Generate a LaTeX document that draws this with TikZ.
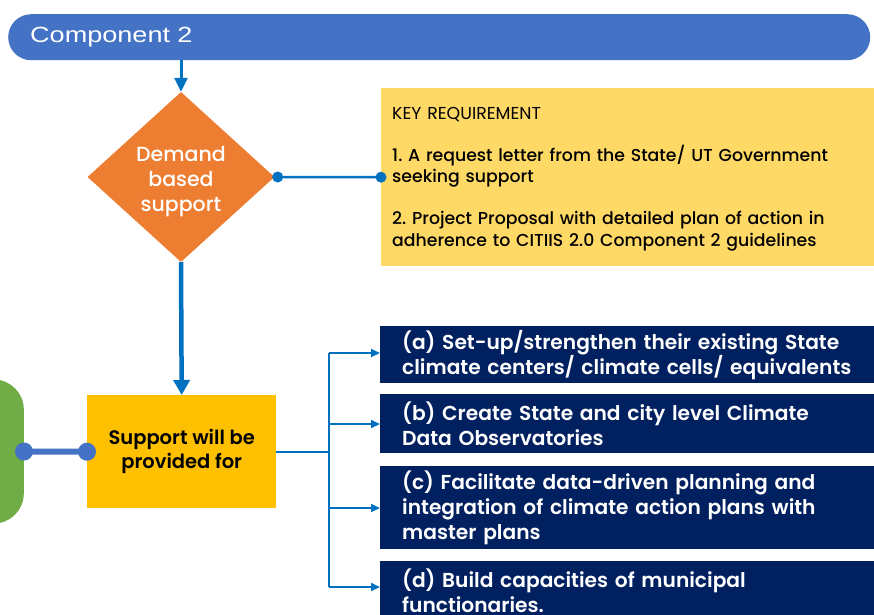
\documentclass[tikz,border=0pt]{standalone}
\usepackage{fontspec}
\setmainfont{Poppins}
\newfontfamily\medfont{Poppins Medium}
\newfontfamily\semifont{Poppins SemiBold}
\newfontfamily\barfont{Liberation Sans}[FakeStretch=1.23]
\usetikzlibrary{shapes.geometric, arrows.meta}
\frenchspacing

\definecolor{barblue}{HTML}{4472C4}
\definecolor{linkblue}{HTML}{0070C0}
\definecolor{dmdorange}{HTML}{ED7D31}
\definecolor{keyyellow}{HTML}{FFD966}
\definecolor{supgold}{HTML}{FFC000}
\definecolor{navy}{HTML}{002060}
\definecolor{leafgreen}{HTML}{70AD47}

\tikzset{
  bar/.style={fill=barblue, rounded corners=23pt, minimum height=46pt, text width=818pt,
    inner xsep=22pt, align=left, text=white, font=\barfont\fontsize{22}{26}\selectfont},
  decision/.style={diamond, fill=dmdorange, inner sep=0pt, minimum width=187pt,
    minimum height=170pt},
  dmdtext/.style={text=white, align=center, font=\medfont\fontsize{20.5}{25}\selectfont},
  keybox/.style={fill=keyyellow, anchor=north west, minimum height=178pt, text width=471pt,
    inner xsep=11pt, align=left, font=\medfont\fontsize{17.3}{21.3}\selectfont},
  supbox/.style={fill=supgold, anchor=north west, minimum width=189pt, minimum height=113pt,
    align=center, font=\semifont\fontsize{19.5}{24}\selectfont},
  itembox/.style={fill=navy, text=white, anchor=north west, text width=450pt, inner xsep=22pt,
    align=left, font=\semifont\fontsize{20.2}{25}\selectfont},
  flow/.style={draw=linkblue, line width=3pt, -{Triangle[length=14pt,width=13pt]}},
  branch/.style={draw=linkblue, line width=2pt},
}

\begin{document}
\begin{tikzpicture}[x=1pt, y=-1pt]
\useasboundingbox (0,0) rectangle (874,614);
\clip (0,0) rectangle (874,614);

\node[bar, anchor=north west] (comp) at (8,14) {Component 2};
\node[decision] (dmd) at (181,177) {};
\node[dmdtext] (dmdlbl) at ([yshift=-5pt]dmd.center) {Demand\\based\\support};
\node[keybox] (key) at (381,88) {{\rmfamily\rule{0pt}{16pt}KEY REQUIREMENT}\\[20.7pt]
  1. A request letter from the State/ UT Government\\seeking support\\[20.7pt]
  2. Project Proposal with detailed plan of action in\\adherence to CITIIS 2.0 Component 2 guidelines};
\node[supbox] (sup) at (87,395) {Support will be\\provided for};
\node[fill=leafgreen, rounded corners=30pt, minimum width=100pt, minimum height=144pt,
  anchor=east] (grn) at (24,451.5) {};

\node[itembox, minimum height=57pt] (a) at (380,326)
  {(a) Set-up/strengthen their existing State\\climate centers/ climate cells/ equivalents};
\node[itembox, minimum height=59pt] (b) at (380,394)
  {(b) Create State and city level Climate\\Data Observatories};
\node[itembox, minimum height=83pt] (c) at (380,466)
  {(c) Facilitate data-driven planning and\\integration of climate action plans with\\master plans};
\node[itembox, minimum height=59pt] (d) at (380,561)
  {(d) Build capacities of municipal\\functionaries.};

\draw[flow] (comp.south -| dmd.north) -- (dmd.north);
\draw[flow, line width=4.5pt, -{Triangle[length=15pt,width=16pt]}] (dmd.south) -- (sup.north);

\draw[linkblue, line width=2.5pt] (dmd.east) -- (key.west);
\fill[linkblue] (dmd.east) ++(3,0) circle (5.5pt);
\fill[linkblue] (key.west) circle (5.5pt);

\draw[barblue, line width=6pt] (grn.east) -- (sup.west);
\fill[barblue] (grn.east) circle (9pt);
\fill[barblue] (sup.west) circle (9pt);

\coordinate (fork) at (sup.east -| 329,0);
\draw[branch] (sup.east) -- (fork);
\draw[branch] (fork |- 0,353) -- (fork |- 0,587);
\foreach \b/\y in {a/353, b/424, c/508, d/587}
  \draw[branch, -{Triangle[length=9pt,width=8pt]}] (329,\y) -- (\b.west |- 0,\y);
\end{tikzpicture}
\end{document}
